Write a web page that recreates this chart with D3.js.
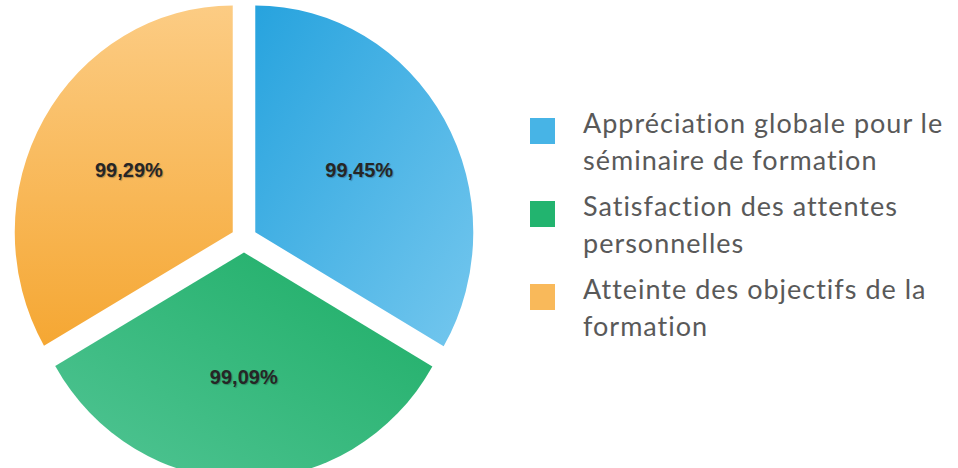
<!DOCTYPE html>
<html>
<head>
<meta charset="utf-8">
<script src="https://cdn.jsdelivr.net/npm/d3@7"></script>
<style>
  html, body { margin: 0; padding: 0; background: #fff; }
  svg { display: block; }
</style>
</head>
<body>
<svg id="chart" width="958" height="468"></svg>
<script>
// data
const categories = [
  "Appréciation globale pour le séminaire de formation",
  "Satisfaction des attentes personnelles",
  "Atteinte des objectifs de la formation"
];
const values = [99.45, 99.09, 99.29];
const valueLabels = ["99,45%", "99,09%", "99,29%"];
const legendLines = [
  ["Appréciation globale pour le", "séminaire de formation"],
  ["Satisfaction des attentes", "personnelles"],
  ["Atteinte des objectifs de la", "formation"]
];

const legendColors = ["#47b4e6", "#22b46f", "#f9b95a"];
const gradStops = [
  { x1: 0, y1: 0, x2: 1, y2: 1, from: "#27a3de", to: "#74c7ee" },
  { x1: 1, y1: 0, x2: 0, y2: 1, from: "#1cad65", to: "#52c595" },
  { x1: 0.5, y1: 0, x2: 0.5, y2: 1, from: "#fccc84", to: "#f5a733" }
];

const svg = d3.select("#chart");
const cx = 244, cy = 239, R = 218, sy = 1.04, explode = 13;

const defs = svg.append("defs");
gradStops.forEach((g, i) => {
  const lg = defs.append("linearGradient")
    .attr("id", "grad" + i)
    .attr("x1", g.x1).attr("y1", g.y1).attr("x2", g.x2).attr("y2", g.y2);
  lg.append("stop").attr("offset", "0%").attr("stop-color", g.from);
  lg.append("stop").attr("offset", "100%").attr("stop-color", g.to);
});

const pie = d3.pie().sort(null).startAngle(0).endAngle(2 * Math.PI);
const arcs = pie(values);
const arc = d3.arc().innerRadius(0).outerRadius(R);
const labelArc = d3.arc().innerRadius(R * 0.55).outerRadius(R * 0.55);

const offset = d => {
  const a = (d.startAngle + d.endAngle) / 2;
  return [Math.sin(a) * explode, -Math.cos(a) * explode];
};

const pieG = svg.append("g")
  .attr("transform", `translate(${cx},${cy}) scale(1,${sy})`);

pieG.selectAll("path")
  .data(arcs)
  .enter()
  .append("path")
  .attr("transform", d => `translate(${offset(d)[0]},${offset(d)[1]})`)
  .attr("d", arc)
  .attr("fill", (d, i) => `url(#grad${i})`);

// value labels (outside scaled group so text isn't stretched)
svg.selectAll(".val")
  .data(arcs)
  .enter()
  .append("text")
  .attr("class", "val")
  .attr("x", d => cx + labelArc.centroid(d)[0] + offset(d)[0])
  .attr("y", d => cy + (labelArc.centroid(d)[1] + offset(d)[1]) * sy)
  .attr("dy", "0.35em")
  .attr("text-anchor", "middle")
  .attr("font-family", "Liberation Sans, Arial, sans-serif")
  .attr("font-weight", "bold")
  .attr("font-size", 20)
  .attr("fill", "#262626")
  .attr("style", "text-shadow: 1px 1px 1px rgba(0,0,0,0.25)")
  .text((d, i) => valueLabels[i]);

// legend
const legendY = d3.scalePoint().domain(d3.range(categories.length)).range([131, 297]);
const legend = svg.selectAll(".leg")
  .data(categories)
  .enter()
  .append("g")
  .attr("class", "leg")
  .attr("transform", (d, i) => `translate(530,${legendY(i)})`);

legend.append("rect")
  .attr("x", 0).attr("y", -13)
  .attr("width", 25).attr("height", 26)
  .attr("fill", (d, i) => legendColors[i]);

legend.append("text")
  .attr("font-family", "Lato, Carlito, Calibri, sans-serif")
  .attr("font-size", 27)
  .attr("letter-spacing", 1)
  .attr("fill", "#595959")
  .attr("style", "font-variant-ligatures: none")
  .selectAll("tspan")
  .data((d, i) => legendLines[i])
  .enter()
  .append("tspan")
  .attr("x", 53)
  .attr("y", (d, j) => 2 + j * 37)
  .text(d => d);
</script>
</body>
</html>
